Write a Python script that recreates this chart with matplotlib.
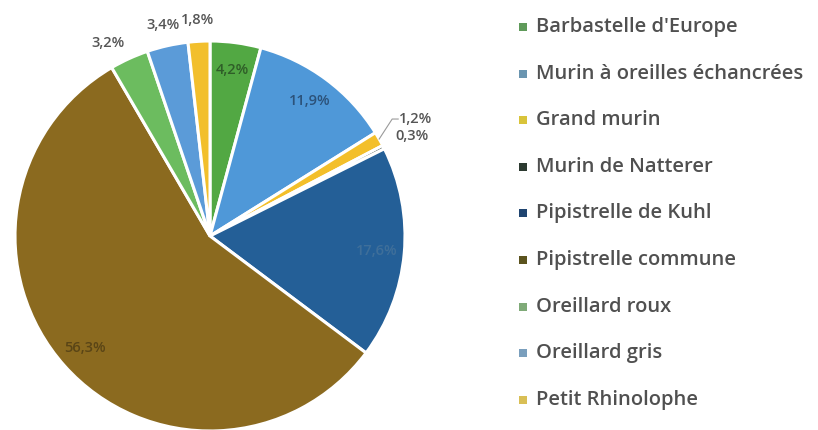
import numpy as np
import matplotlib
matplotlib.use("Agg")
import matplotlib.pyplot as plt

# Species share of recorded bat contacts
species = [
    "Barbastelle d'Europe",
    "Murin à oreilles échancrées",
    "Grand murin",
    "Murin de Natterer",
    "Pipistrelle de Kuhl",
    "Pipistrelle commune",
    "Oreillard roux",
    "Oreillard gris",
    "Petit Rhinolophe",
]
shares = [4.2, 11.9, 1.2, 0.3, 17.6, 56.3, 3.2, 3.4, 1.8]
labels = ["4,2%", "11,9%", "1,2%", "0,3%", "17,6%", "56,3%", "3,2%", "3,4%", "1,8%"]

colors = ["#52a843", "#4f98d8", "#f3bf2a", "#2f3f33", "#245f97",
          "#8b6a1f", "#6cbc5f", "#5b9bd8", "#f2bf2c"]
text_colors = ["#2f5e28", "#2c527a", "#555555", "#555555", "#3f6f9a",
               "#5a4516", "#555555", "#555555", "#555555"]
legend_colors = ["#5f9a5a", "#6a95b0", "#d9c43a", "#2c3a30", "#1f4470",
                 "#5b531e", "#7faa78", "#7a9fbd", "#d9bf55"]
# where each label sits: inside the wedge, outside, or outside with a leader
placement = ["in", "in", "lead", "out", "in", "in", "out", "out", "out"]
# small nudges (pixels) for crowded outside labels
nudge = {"0,3%": (9, 1), "3,2%": (-12, -4)}

FONT = ["Open Sans", "DejaVu Sans"]

W, H = 818, 430
fig = plt.figure(figsize=(W / 100, H / 100), dpi=100)
ax = fig.add_axes([0, 0, 1, 1])

cx, cy, R = 210, H - 236, 195
wedges, _ = ax.pie(shares, colors=colors, startangle=90, counterclock=False,
                   center=(cx, cy), radius=R, frame=True,
                   wedgeprops=dict(edgecolor="white", linewidth=2.2))
ax.set_xlim(0, W)
ax.set_ylim(0, H)
ax.set_aspect("equal")
ax.axis("off")

for w, lab, tc, pl in zip(wedges, labels, text_colors, placement):
    mid = np.deg2rad((w.theta1 + w.theta2) / 2)
    if pl == "in":
        r = 0.86 * R
        ax.text(cx + r * np.cos(mid), cy + r * np.sin(mid), lab,
                ha="center", va="center", fontsize=10.5, color=tc,
                weight="semibold", family=FONT)
    elif pl == "out":
        r = 1.11 * R
        dx, dy = nudge.get(lab, (0, 0))
        x, y = cx + r * np.cos(mid) + dx, cy + r * np.sin(mid) + dy
        ax.text(x, y, lab, ha="center", va="center", fontsize=10.5,
                color="#555555", weight="semibold", family=FONT)
    else:
        x0, y0 = cx + 1.0 * R * np.cos(mid), cy + 1.0 * R * np.sin(mid)
        x1, y1 = x0 + 13, y0 + 20
        ax.plot([x0, x1, x1 + 6], [y0, y1, y1], color="#9a9a9a", lw=0.8)
        ax.text(x1 + 7, y1, lab, ha="left", va="center", fontsize=10.5,
                color="#555555", weight="semibold", family=FONT)

# legend column
lx, ly0, step = 523, H - 27, 46.6
for i, (name, c) in enumerate(zip(species, legend_colors)):
    y = ly0 - i * step
    ax.scatter([lx], [y], marker="s", s=28, color=c, linewidths=0)
    ax.text(lx + 13, y, name, ha="left", va="center", fontsize=14.5,
            color="#505050", weight="semibold", family=FONT)

fig.savefig("out.png", dpi=100, facecolor="white")
